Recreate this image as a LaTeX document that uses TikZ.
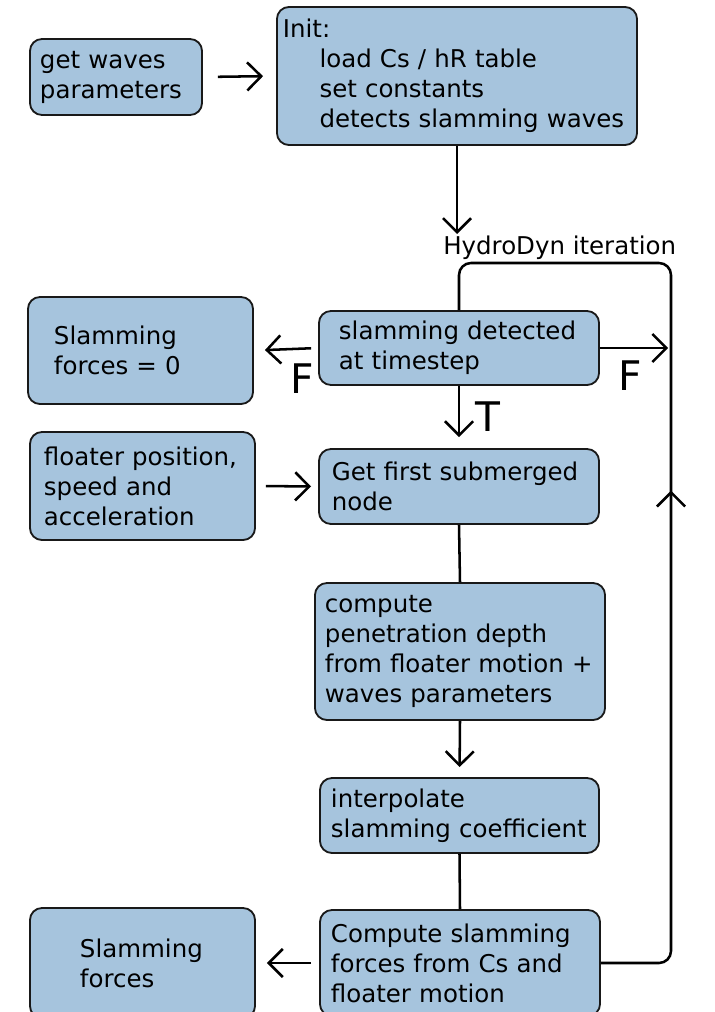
\documentclass[tikz,border=0pt]{standalone}
\usepackage{fontspec}
\setmainfont{DejaVu Sans}
\usetikzlibrary{arrows.meta,decorations.markings}
\definecolor{boxblue}{RGB}{166,196,221}
\tikzset{
  block/.style={draw=black!90, fill=boxblue, rounded corners=0.3cm, line width=1.3pt,
    align=left, inner ysep=0pt, font=\fontsize{17.4}{21.3}\selectfont},
  wire/.style={line width=1.8pt},
  link/.style={wire, -{Straight Barb[length=10pt,width=20pt]}},
  tflabel/.style={font=\fontsize{29}{30}\selectfont, inner sep=0pt}
}
\begin{document}
\begin{tikzpicture}[x=0.025cm, y=-0.025cm]
\useasboundingbox (0,0) rectangle (715,1012);
% boxes
\node[block, text width=3.8cm, inner xsep=0.25cm, minimum height=1.9cm] (waves) at (116,77) {get waves\\parameters};
\node[block, text width=8.7cm, inner xsep=0.15cm, minimum height=3.45cm] (init) at (457,76)
  {Init:\\\hspace*{26pt}load Cs / hR table\\\hspace*{26pt}set constants\\\hspace*{26pt}detects slamming waves};
\node[block, text width=4.325cm, inner xsep=0.65cm, minimum height=2.675cm] (zero) at (140.5,350.5) {Slamming\\forces = 0};
\node[block, text width=6cm, inner xsep=0.5cm, minimum height=1.85cm] (detect) at (459,348) {slamming detected\\at timestep};
\node[block, text width=4.925cm, inner xsep=0.35cm, minimum height=2.7cm] (floater) at (142.5,486) {floater position,\\speed and\\acceleration};
\node[block, text width=6.35cm, inner xsep=0.325cm, minimum height=1.875cm] (first) at (459,486.5) {Get first submerged\\node};
\node[block, text width=6.75cm, inner xsep=0.25cm, minimum height=3.425cm] (depth) at (460,651.5) {compute\\penetration depth\\from floater motion +\\waves parameters};
\node[block, text width=6.425cm, inner xsep=0.275cm, minimum height=1.875cm] (coef) at (459.5,815.5) {interpolate\\slamming coefficient};
\node[block, text width=6.45cm, inner xsep=0.275cm, minimum height=2.65cm] (calc) at (460,963) {Compute slamming\\forces from Cs and\\floater motion};
\node[block, text width=3.125cm, inner xsep=1.25cm, minimum height=2.75cm] (forces) at (142.5,963) {Slamming\\forces};

% iteration loop
\coordinate (iter) at (457,234);
\coordinate (loopR) at (671,263);
\node[anchor=west, inner sep=0pt, font=\fontsize{17.4}{20}\selectfont] (itlabel) at (443,248) {HydroDyn iteration};
\draw[wire, rounded corners=0.3cm, decoration={markings, mark=at position 0.53 with {\arrow{Straight Barb[length=10pt,width=20pt]}}}, postaction={decorate}]
  (calc.east) -| (loopR) -| (detect.north);

% connectors
\draw[link, shorten <=0.375cm, shorten >=0.325cm] (waves.east) -- (init.west);
\draw[link] (init.south) -- (iter);
\draw[link, shorten <=0.175cm, shorten >=0.275cm] (detect.west) -- (zero.east);
\draw[link, shorten >=2pt] (detect.east) -- (detect.east -| loopR);
\draw[link, shorten >=0.275cm] (detect.south) -- (first.north);
\draw[link, shorten <=0.25cm, shorten >=0.175cm] (floater.east) -- (first.west);
\draw[wire] (first.south) -- (depth.north);
\draw[link, shorten >=0.25cm] (depth.south) -- (coef.north);
\draw[wire] (coef.south) -- (calc.north);
\draw[link, shorten <=0.2cm, shorten >=0.275cm] (calc.west) -- (forces.east);

% true / false labels
\node[tflabel] (fleft) at (302,379) {F};
\node[tflabel] (fright) at (630,376) {F};
\node[tflabel] (tdown) at (488,417) {T};
\end{tikzpicture}
\end{document}
